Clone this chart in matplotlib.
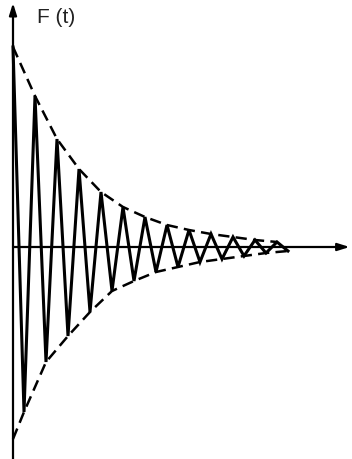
import matplotlib
matplotlib.use("Agg")
import matplotlib.pyplot as plt
import numpy as np

# Damped oscillation: upper peaks at whole periods, lower peaks half a period later
upper_times = [0, 1, 2, 3, 4, 5, 6, 7, 8, 9, 10, 11, 12]
upper_peaks = [1.00, 0.755, 0.54, 0.39, 0.275, 0.20, 0.15, 0.11, 0.085,
               0.065, 0.05, 0.035, 0.025]
lower_times = [0.5, 1.5, 2.5, 3.5, 4.5, 5.5, 6.5, 7.5, 8.5, 9.5, 10.5, 11.5,
               12.5]
lower_peaks = [0.825, 0.575, 0.445, 0.325, 0.22, 0.17, 0.125, 0.10, 0.075,
               0.06, 0.045, 0.03, 0.02]
# lower envelope value where it meets the F(t) axis
lower_start = 0.96
axis_label = "F (t)"

tu = np.array(upper_times, dtype=float)
tl = np.array(lower_times, dtype=float)
au = np.array(upper_peaks)
al = np.array(lower_peaks)

# interleave the peaks into one zig-zag signal
wave_t = np.empty(len(tu) + len(tl))
wave_f = np.empty_like(wave_t)
wave_t[0::2], wave_t[1::2] = tu, tl
wave_f[0::2], wave_f[1::2] = au, -al

fig = plt.figure(figsize=(3.52, 4.60), dpi=100)
ax = fig.add_axes([0, 0, 1, 1])
ax.set_xlim(-13 / 22, (352 - 13) / 22)
ax.set_ylim(-1.06, 1.24)
ax.axis("off")

# oscillation (straight strokes between alternating peaks)
ax.plot(wave_t, wave_f, color="black", lw=2.2, solid_joinstyle="miter")

# dashed envelopes
dash = (0, (4.5, 2.5))
ax.plot(tu, au, color="black", lw=1.8, ls=dash)
ax.plot(np.r_[0.0, tl], -np.r_[lower_start, al], color="black", lw=1.8, ls=dash)

# axes with arrowheads
arrow = dict(arrowstyle="-|>,head_length=0.7,head_width=0.22", color="black",
             lw=1.6, shrinkA=0, shrinkB=0)
ax.annotate("", xy=(15.3, 0.0), xytext=(0.0, 0.0), arrowprops=arrow)
ax.annotate("", xy=(0.0, 1.22), xytext=(0.0, -1.06), arrowprops=arrow)

ax.text(1.08, 1.125, axis_label, fontsize=15,
        family=["Liberation Sans", "DejaVu Sans"],
        ha="left", va="baseline", color="#222222")

fig.savefig("out.png", dpi=100)
